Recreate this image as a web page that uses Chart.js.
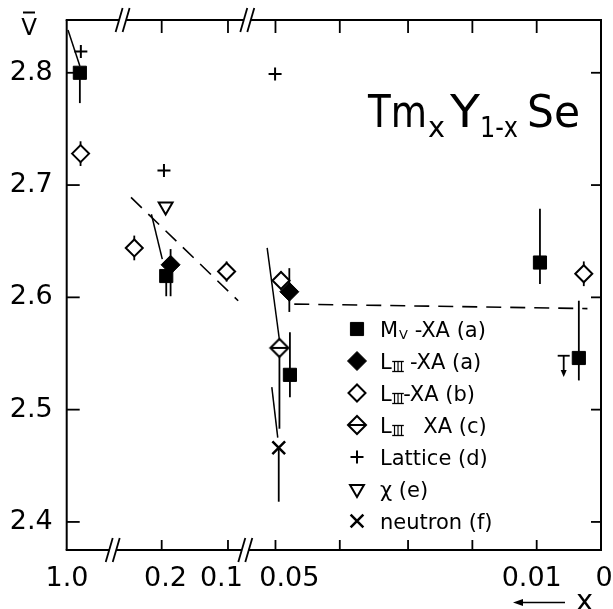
<!DOCTYPE html>
<html>
<head>
<meta charset="utf-8">
<script src="https://cdn.jsdelivr.net/npm/chart.js@4.4.0/dist/chart.umd.min.js"></script>
<style>
  body { margin: 0; background: #fff; }
</style>
</head>
<body>
<canvas id="chart" width="613" height="609"></canvas>
<script>
// x values are positions along the broken concentration axis (0 = "1.0", 540 = "0")
const yTicks = [2.4, 2.5, 2.6, 2.7, 2.8];
const xLabelText = ['1.0', '0.2', '0.1', '0.05', '0.01', '0'];
const xLabelPos = [0.3, 99.8, 156.3, 225, 470, 543];
const xTickPos = [96, 163, 211, 276, 345, 410, 475];

// M_V - XA (a)
const mvX  = [13.3, 100.6, 225.6, 478.3, 517.6];
const mvY  = [2.800, 2.619, 2.531, 2.631, 2.546];
const mvLo = [2.773, 2.601, 2.511, 2.612, 2.526];
const mvHi = [2.800, 2.619, 2.569, 2.679, 2.597];
// L_III - XA (a)
const l3aX  = [105, 225];
const l3aY  = [2.629, 2.605];
const l3aLo = [2.601, 2.587];
const l3aHi = [2.643, 2.626];
// L_III - XA (b)
const l3bX  = [14, 68.3, 161.6, 216.6, 522.6];
const l3bY  = [2.728, 2.644, 2.623, 2.615, 2.621];
const l3bLo = [2.717, 2.633, 2.614, 2.607, 2.610];
const l3bHi = [2.739, 2.655, 2.632, 2.623, 2.632];
// L_III XA (c)
const l3cX  = [215];
const l3cY  = [2.555];
const l3cLo = [2.483];
const l3cHi = [2.555];
// Lattice (d)
const latX = [14.3, 98.3, 210.6];
const latY = [2.819, 2.713, 2.799];
// chi (e)
const chiX = [100];
const chiY = [2.681];
// neutron (f)
const neuX  = [214.3];
const neuY  = [2.466];
const neuLo = [2.418];
const neuHi = [2.466];
// upper limit marker
const ulX = [502.3];
const ulTop = [2.548];
const ulTip = [2.530];

// guide lines
const solidX = [[1.3, 13.3], [85.6, 96.6], [202.6, 215], [207.3, 213.3]];
const solidY = [[2.838, 2.806], [2.674, 2.634], [2.644, 2.562], [2.520, 2.475]];
const dashX = [[65, 173.3], [230, 526.3]];
const dashY = [[2.689, 2.597], [2.594, 2.590]];

const FONT = "'DejaVu Sans', sans-serif";

function pts(xs, ys, lo, hi) {
  return xs.map((x, i) => ({ x: x, y: ys[i], lo: lo ? lo[i] : null, hi: hi ? hi[i] : null }));
}

// diamond with a horizontal bar for L_III XA (c)
const halfDiamond = document.createElement('canvas');
halfDiamond.width = 22; halfDiamond.height = 22;
(function () {
  const c = halfDiamond.getContext('2d');
  c.lineWidth = 2;
  c.strokeStyle = '#000';
  c.fillStyle = '#fff';
  c.beginPath();
  c.moveTo(2, 11); c.lineTo(11, 2); c.lineTo(20, 11); c.lineTo(11, 20); c.closePath();
  c.fill(); c.stroke();
  c.beginPath(); c.moveTo(2, 11); c.lineTo(20, 11); c.stroke();
})();

const markerSets = [
  { label: 'Mv', data: pts(mvX, mvY, mvLo, mvHi), pointStyle: 'rect', pointRadius: 9.3, backgroundColor: '#000', borderColor: '#000', borderWidth: 1 },
  { label: 'L3a', data: pts(l3aX, l3aY, l3aLo, l3aHi), pointStyle: 'rectRot', pointRadius: 9.5, backgroundColor: '#000', borderColor: '#000', borderWidth: 1 },
  { label: 'L3b', data: pts(l3bX, l3bY, l3bLo, l3bHi), pointStyle: 'rectRot', pointRadius: 8.5, backgroundColor: '#fff', borderColor: '#000', borderWidth: 2 },
  { label: 'L3c', data: pts(l3cX, l3cY, l3cLo, l3cHi), pointStyle: halfDiamond, pointRadius: 10, backgroundColor: '#fff', borderColor: '#000', borderWidth: 2 },
  { label: 'Lattice', data: pts(latX, latY), pointStyle: 'cross', pointRadius: 6.5, backgroundColor: '#000', borderColor: '#000', borderWidth: 2 },
  { label: 'chi', data: pts(chiX, chiY), pointStyle: 'triangle', rotation: 180, pointRadius: 8, backgroundColor: '#fff', borderColor: '#000', borderWidth: 2 },
  { label: 'neutron', data: pts(neuX, neuY, neuLo, neuHi), pointStyle: 'crossRot', pointRadius: 9, backgroundColor: '#000', borderColor: '#000', borderWidth: 2.5 }
];
markerSets.forEach(d => { d.type = 'scatter'; d.pointHoverRadius = d.pointRadius; d.order = 0; });

const lineSets = [];
solidX.forEach((xs, i) => lineSets.push({
  type: 'line', data: pts(xs, solidY[i]), borderColor: '#000', borderWidth: 1.5,
  pointRadius: 0, showLine: true, fill: false, order: 5
}));
dashX.forEach((xs, i) => lineSets.push({
  type: 'line', data: pts(xs, dashY[i]), borderColor: '#000', borderWidth: 1.6,
  borderDash: [15, 9], pointRadius: 0, showLine: true, fill: false, order: 5
}));

const legendRows = [
  { main: 'M', sub: 'V', rest: ' -XA (a)' },
  { main: 'L', sub: 'III', rest: ' -XA (a)' },
  { main: 'L', sub: 'III', rest: '-XA (b)' },
  { main: 'L', sub: 'III', rest: '   XA (c)' },
  { main: 'Lattice (d)', sub: '', rest: '' },
  { main: 'χ (e)', sub: '', rest: '' },
  { main: 'neutron (f)', sub: '', rest: '' }
];

function line(ctx, x1, y1, x2, y2) {
  ctx.beginPath(); ctx.moveTo(x1, y1); ctx.lineTo(x2, y2); ctx.stroke();
}

const figurePlugin = {
  id: 'figure',
  beforeDraw(chart) {
    const ctx = chart.ctx;
    ctx.save();
    ctx.fillStyle = '#fff';
    ctx.fillRect(0, 0, chart.width, chart.height);
    ctx.restore();
  },
  beforeDatasetsDraw(chart) {
    const ctx = chart.ctx, xs = chart.scales.x, ys = chart.scales.y;
    ctx.save();
    ctx.strokeStyle = '#000';
    ctx.lineWidth = 1.8;
    markerSets.forEach(ds => ds.data.forEach(p => {
      if (p.lo == null) return;
      const px = xs.getPixelForValue(p.x);
      line(ctx, px, ys.getPixelForValue(p.hi), px, ys.getPixelForValue(p.lo));
    }));
    // upper limit marker
    ulX.forEach((x, i) => {
      const px = xs.getPixelForValue(x);
      const t = ys.getPixelForValue(ulTop[i]), b = ys.getPixelForValue(ulTip[i]);
      ctx.lineWidth = 1.8;
      line(ctx, px - 6, t, px + 6, t);
      line(ctx, px, t, px, b - 5);
      ctx.fillStyle = '#000';
      ctx.beginPath(); ctx.moveTo(px - 3, b - 6); ctx.lineTo(px + 3, b - 6); ctx.lineTo(px, b + 1); ctx.closePath(); ctx.fill();
    });
    ctx.restore();
  },
  afterDraw(chart) {
    const ctx = chart.ctx, xs = chart.scales.x, ys = chart.scales.y;
    const a = chart.chartArea;
    ctx.save();
    ctx.strokeStyle = '#000';
    ctx.fillStyle = '#000';
    ctx.lineWidth = 2;
    ctx.lineCap = 'butt';

    // frame with axis breaks
    const brBottom = [46.5, 180.5].map(v => xs.getPixelForValue(v));
    const brTop = [56.5, 182.5].map(v => xs.getPixelForValue(v));
    function hAxis(y, breaks) {
      let x0 = a.left - 1;
      breaks.forEach(b => { line(ctx, x0, y, b - 3.5, y); x0 = b + 3.5; });
      line(ctx, x0, y, a.right + 1, y);
      ctx.lineWidth = 1.8;
      breaks.forEach(b => {
        line(ctx, b - 7, y + 12, b, y - 12);
        line(ctx, b, y + 12, b + 7, y - 12);
      });
      ctx.lineWidth = 2;
    }
    hAxis(a.bottom, brBottom);
    hAxis(a.top, brTop);
    line(ctx, a.left, a.top, a.left, a.bottom);
    line(ctx, a.right, a.top, a.right, a.bottom);

    // inward ticks
    ctx.lineWidth = 1.8;
    yTicks.forEach(v => {
      const py = ys.getPixelForValue(v);
      line(ctx, a.left, py, a.left + 13, py);
      line(ctx, a.right, py, a.right - 10, py);
    });
    xTickPos.forEach(v => {
      const px = xs.getPixelForValue(v);
      line(ctx, px, a.bottom, px, a.bottom - 10);
      line(ctx, px, a.top, px, a.top + 13);
    });

    // y axis title: V with overbar
    ctx.font = '23px ' + FONT;
    ctx.textBaseline = 'alphabetic';
    ctx.textAlign = 'center';
    ctx.fillText('V', 29, 35);
    ctx.lineWidth = 2;
    line(ctx, 23, 12.5, 35, 12.5);

    // x axis title: arrow and x
    ctx.lineWidth = 1.5;
    line(ctx, 520, 602.5, 565, 602.5);
    ctx.beginPath(); ctx.moveTo(513, 602.5); ctx.lineTo(523, 599); ctx.lineTo(523, 606); ctx.closePath(); ctx.fill();
    ctx.font = '29px ' + FONT;
    ctx.textAlign = 'left';
    ctx.fillText('x', 576, 610);

    // compound name
    const pieces = [
      { t: 'Tm', x: 368, w: 59, base: 127, size: 45 },
      { t: 'x', x: 428, w: 17, base: 137, size: 28 },
      { t: 'Y', x: 450, w: 30, base: 127, size: 45 },
      { t: '1-x', x: 480, w: 38, base: 137, size: 28 },
      { t: 'Se', x: 527, w: 53, base: 127, size: 45 }
    ];
    ctx.textAlign = 'left';
    pieces.forEach(p => {
      ctx.font = p.size + 'px ' + FONT;
      const m = ctx.measureText(p.t).width;
      ctx.save();
      ctx.translate(p.x, p.base);
      ctx.scale(p.w / m, 1);
      ctx.fillText(p.t, 0, 0);
      ctx.restore();
    });

    // legend
    const rowY = [329, 361, 393, 425, 457, 489, 521];
    legendRows.forEach((r, i) => {
      const ds = markerSets[i];
      const cy = rowY[i];
      ctx.save();
      ctx.fillStyle = ds.backgroundColor;
      ctx.strokeStyle = ds.borderColor;
      ctx.lineWidth = ds.borderWidth;
      Chart.helpers.drawPoint(ctx, {
        pointStyle: ds.pointStyle, rotation: ds.rotation || 0,
        radius: ds.pointRadius, borderWidth: ds.borderWidth
      }, 357, cy);
      ctx.restore();

      ctx.fillStyle = '#000';
      ctx.font = '21px ' + FONT;
      let x = 380;
      const base = cy + 8;
      ctx.fillText(r.main, x, base);
      x += ctx.measureText(r.main).width;
      if (r.sub) {
        ctx.font = (r.sub === 'V' ? '13px ' : '12px ') + FONT;
        const sx = x + 1;
        ctx.fillText(r.sub, sx, base + 2);
        const sw = ctx.measureText(r.sub).width;
        if (r.sub === 'III') {
          ctx.lineWidth = 1.3;
          line(ctx, sx - 0.5, base - 7.5, sx + sw + 0.5, base - 7.5);
          line(ctx, sx - 0.5, base + 2.5, sx + sw + 0.5, base + 2.5);
        }
        x = sx + sw;
        ctx.font = '21px ' + FONT;
        ctx.fillText(r.rest, x, base);
      }
    });
    ctx.restore();
  }
};

new Chart(document.getElementById('chart'), {
  type: 'scatter',
  data: { datasets: markerSets.concat(lineSets) },
  options: {
    responsive: false,
    animation: false,
    layout: { padding: { top: 20, right: 6.3, left: 0, bottom: 0 } },
    plugins: { legend: { display: false }, tooltip: { enabled: false } },
    scales: {
      x: {
        type: 'linear', min: 0, max: 540,
        grid: { display: false, drawTicks: false },
        border: { display: false },
        afterBuildTicks: s => { s.ticks = xLabelPos.map(v => ({ value: v })); },
        afterFit: s => { s.height = 59; s.paddingLeft = 0; s.paddingRight = 0; },
        ticks: {
          autoSkip: false, maxRotation: 0, padding: 13, color: '#000',
          font: { family: FONT, size: 27 },
          callback: (v, i) => xLabelText[i]
        }
      },
      y: {
        type: 'linear', min: 2.375, max: 2.847,
        grid: { display: false, drawTicks: false },
        border: { display: false },
        afterBuildTicks: s => { s.ticks = yTicks.map(v => ({ value: v })); },
        afterFit: s => { s.width = 66.7; s.paddingTop = 0; s.paddingBottom = 0; },
        ticks: {
          padding: 14, color: '#000',
          font: { family: FONT, size: 27 },
          callback: v => v.toFixed(1)
        }
      }
    }
  },
  plugins: [figurePlugin]
});
</script>
</body>
</html>
